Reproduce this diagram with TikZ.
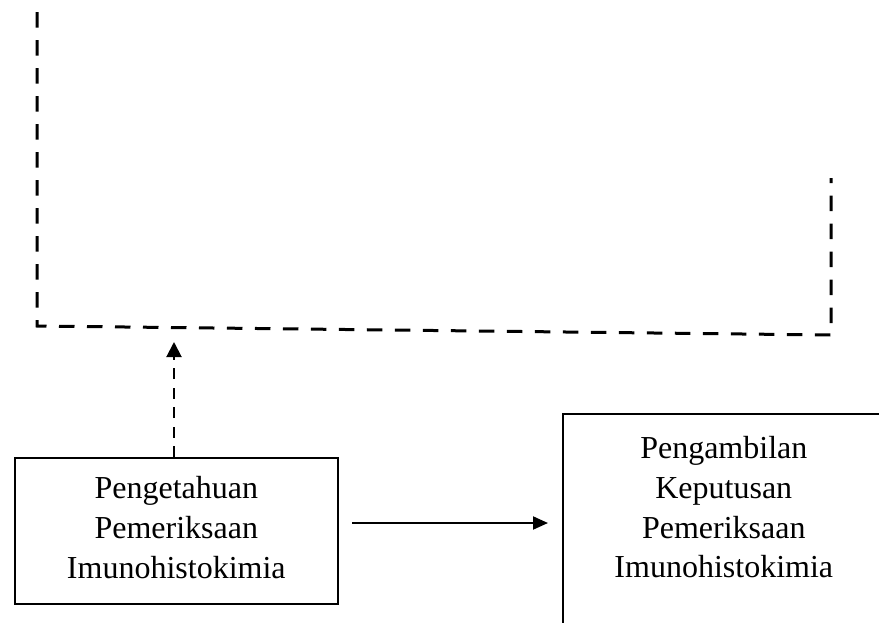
\documentclass[tikz,border=0pt]{standalone}
\usepackage{fontspec}
\setmainfont{Liberation Serif}
\usetikzlibrary{arrows.meta, positioning}

\tikzset{
  kotak/.style={draw, line width=1.6pt, inner sep=0pt, align=center,
    font=\fontsize{32}{39.6}\selectfont},
  garisputus/.style={line width=3pt, dash pattern=on 15.5pt off 12.5pt},
}

\begin{document}
\begin{tikzpicture}[x=1pt, y=-1pt]
  \useasboundingbox (0,0) rectangle (879,622);
  \clip (0,0) rectangle (879,622);
  % kotak variabel
  \node[kotak, anchor=north west, text width=323pt, text height=41pt, text depth=105pt]
    (pengetahuan) at (14,457) {Pengetahuan\\Pemeriksaan\\Imunohistokimia};
  \node[kotak, anchor=north west, text width=322pt, text height=45pt, text depth=190pt]
    (keputusan) at (562,413) {Pengambilan\\Keputusan\\Pemeriksaan\\Imunohistokimia};
  % kerangka putus-putus
  \coordinate (kiriatas) at (37,12);
  \coordinate (kiribawah) at (37,326);
  \coordinate (kananbawah) at (831,335);
  \coordinate (kananatas) at (831,178);
  \draw[garisputus] (kiriatas) -- (kiribawah) -- (kananbawah) -- (kananatas);
  % panah
  \coordinate (ujung) at (174,342);
  \draw[line width=2pt, dash pattern=on 11pt off 8.5pt, -{Triangle[length=15pt, width=15pt]}]
    (pengetahuan.north -| ujung) -- (ujung);
  \coordinate (awal) at (352,523);
  \coordinate (akhir) at (548,523);
  \draw[line width=2pt, -{Triangle[length=15pt, width=13pt]}] (awal) -- (akhir);
\end{tikzpicture}
\end{document}
